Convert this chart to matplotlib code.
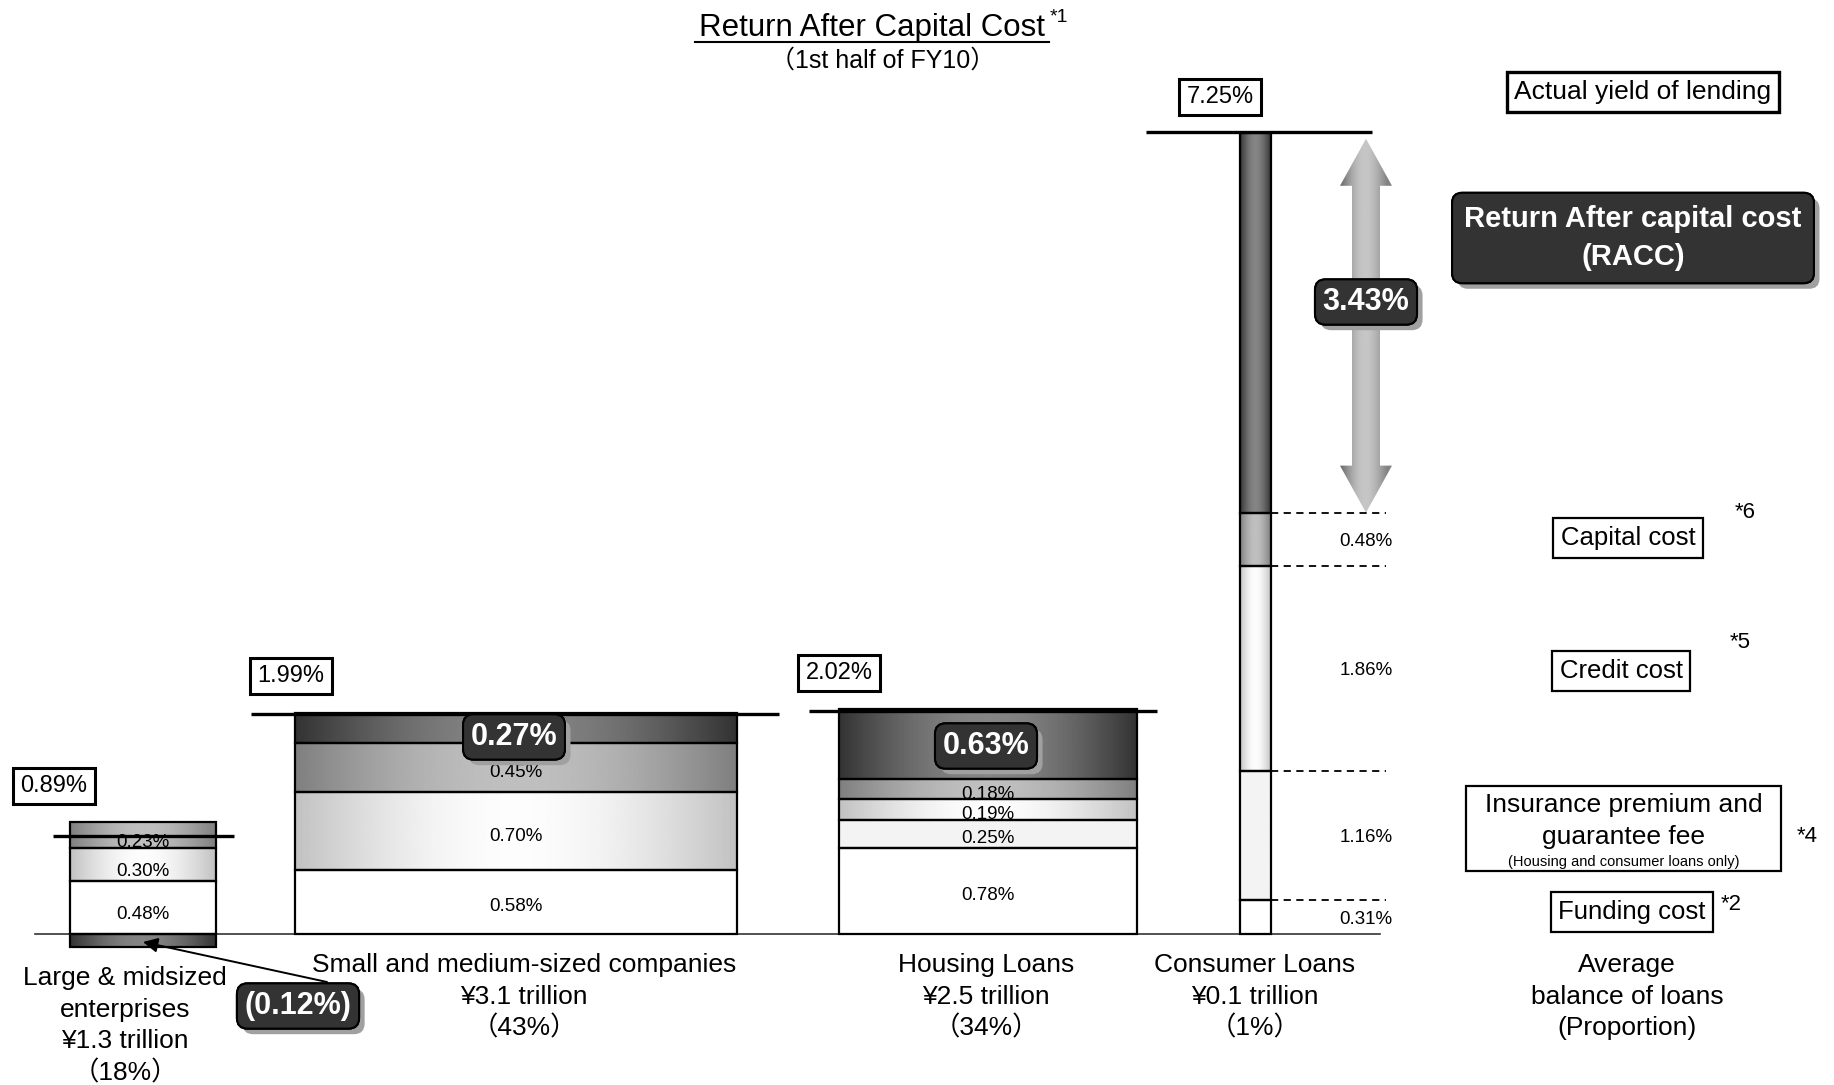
import numpy as np
import matplotlib
matplotlib.use("Agg")
import matplotlib.pyplot as plt
from matplotlib.patches import Rectangle, Polygon
import matplotlib.patheffects as pe

# ---------------- data ----------------
categories = ["Large & midsized\nenterprises", "Small and medium-sized companies",
              "Housing Loans", "Consumer Loans"]
balances = ["¥1.3 trillion", "¥3.1 trillion", "¥2.5 trillion", "¥0.1 trillion"]
proportions = ["（18%）", "（43%）", "（34%）", "（1%）"]
funding_cost = [0.48, 0.58, 0.78, 0.31]
insurance_fee = [0.00, 0.00, 0.25, 1.16]
credit_cost = [0.30, 0.70, 0.19, 1.86]
capital_cost = [0.23, 0.45, 0.18, 0.48]
racc = [-0.12, 0.27, 0.63, 3.43]
actual_yield = [0.89, 1.99, 2.02, 7.25]

# ---------------- layout ----------------
W, H = 1834, 1085
BASE = 934.0      # pixel row of zero line
PPU = 110.6       # pixels per percentage point

def Y(p):
    return (BASE - p) / PPU

ARIAL = ['Liberation Sans', 'Noto Sans CJK JP']
NARROW = ['Liberation Sans Narrow', 'Liberation Sans', 'DejaVu Sans']

fig = plt.figure(figsize=(W / 100, H / 100), dpi=100)
ax = fig.add_axes([0, 0, 1, 1])
ax.axis('off')

bar_lr = [(70, 216), (295, 737), (839, 1137), (1240, 1271)]
line_lr = [(53, 234), (251, 779), (809, 1157), (1146, 1372)]

STYLES = {
    'white': (1.0, 1.0),
    'dot': (0.95, 0.95),
    'light': (0.76, 0.99),
    'medium': (0.50, 0.75),
    'dark': (0.20, 0.52),
}


def grad_rect(x0, x1, y0, y1, style):
    edge, center = STYLES[style]
    t = np.linspace(0, 1, 256)
    val = edge + (center - edge) * np.sin(np.pi * t)
    img = np.tile(val, (2, 1))
    ax.imshow(img, extent=[x0, x1, y0, y1], aspect='auto', cmap='gray',
              vmin=0, vmax=1, interpolation='bilinear', zorder=2)
    ax.add_patch(Rectangle((x0, y0), x1 - x0, y1 - y0, fill=False,
                           ec='black', lw=1.6, zorder=3))


# baseline
ax.plot([35, 1380], [0, 0], color='#333333', lw=1.2, zorder=1)

seg_series = [(funding_cost, 'white'), (insurance_fee, 'dot'),
              (credit_cost, 'light'), (capital_cost, 'medium')]

for i in range(len(categories)):
    x0, x1 = bar_lr[i]
    xc = (x0 + x1) / 2
    bottom = 0.0
    bounds = []
    off = -0.065 if i == 0 else -0.045
    for vals, style in seg_series:
        v = vals[i]
        if v <= 0:
            continue
        grad_rect(x0, x1, bottom, bottom + v, style)
        if i < 3:
            ax.text(xc, bottom + v / 2 + off, f"{v:.2f}%", ha='center',
                    va='center', fontsize=13.5, family=NARROW, zorder=5)
        else:
            ax.text(1366, bottom + v / 2 - 0.02, f"{v:.2f}%", ha='center',
                    va='center', fontsize=13.5, family=NARROW, zorder=5)
        bottom += v
        bounds.append(bottom)
    r = racc[i]
    if r >= 0:
        grad_rect(x0, x1, bottom, bottom + r, 'dark')
    else:
        grad_rect(x0, x1, r, 0, 'dark')
    if i == 3:
        for b in bounds:
            ax.plot([x1, 1386], [b, b], color='black', lw=1.3,
                    ls=(0, (4, 3)), zorder=4)
    lx0, lx1 = line_lr[i]
    ax.plot([lx0, lx1], [actual_yield[i], actual_yield[i]], color='black',
            lw=2.4, zorder=4, solid_capstyle='butt')

# total yield boxes
total_pos = [(54, 786), (291, 676), (839, 673), (1220, 97)]
for i, (px, py) in enumerate(total_pos):
    ax.text(px, Y(py), f"{actual_yield[i]:.2f}%", ha='center', va='center',
            fontsize=17, family=NARROW, zorder=6,
            bbox=dict(boxstyle='square,pad=0.3', fc='white', ec='black', lw=2.2))


def dark_box(x, y, s, fs=22, pad=0.25, ls=1.2):
    t = ax.text(x, y, s, ha='center', va='center', fontsize=fs,
                family=NARROW, weight='bold', color='white', zorder=8,
                multialignment='center', linespacing=ls,
                bbox=dict(boxstyle=f'round,pad={pad},rounding_size=0.35',
                          fc='#333333', ec='black', lw=1.5))
    t.get_bbox_patch().set_path_effects(
        [pe.withSimplePatchShadow(offset=(4, -4), shadow_rgbFace='#a0a0a0', alpha=1.0),
         pe.Normal()])
    return t


# RACC boxes on bars
dark_box(514, Y(737), f"{racc[1]:.2f}%")
dark_box(986, Y(746), f"{racc[2]:.2f}%")
dark_box(298, Y(1006), f"({abs(racc[0]):.2f}%)")
ax.annotate("", xy=(143, Y(942)), xytext=(327, Y(982)),
            arrowprops=dict(arrowstyle='-|>', color='black', lw=1.4,
                            mutation_scale=22, shrinkA=0, shrinkB=0), zorder=7)

# double-headed gradient arrow for consumer RACC
cx = 1366
arr_bot = funding_cost[3] + insurance_fee[3] + credit_cost[3] + capital_cost[3]
arr_top = arr_bot + racc[3] - 0.05
hl = 47 / PPU
sw, hw = 14, 26
verts = [(cx, arr_top), (cx + hw, arr_top - hl), (cx + sw, arr_top - hl),
         (cx + sw, arr_bot + hl), (cx + hw, arr_bot + hl), (cx, arr_bot),
         (cx - hw, arr_bot + hl), (cx - sw, arr_bot + hl),
         (cx - sw, arr_top - hl), (cx - hw, arr_top - hl)]
poly = Polygon(verts, closed=True, fc='none', ec='none', zorder=3)
ax.add_patch(poly)
t = np.linspace(0, 1, 256)
gv = 0.40 + 0.32 * np.sin(np.pi * np.clip(t * 1.1, 0, 1)) + 0.12 * t
img = np.tile(np.clip(gv, 0, 1), (2, 1))
im = ax.imshow(img, extent=[cx - hw, cx + hw, arr_bot, arr_top], aspect='auto',
               cmap='gray', vmin=0, vmax=1, interpolation='bilinear', zorder=3)
im.set_clip_path(poly)
dark_box(cx, Y(302), f"{racc[3]:.2f}%")

# category labels
label_x = [125, 524, 986, 1255]
label_y0 = [978, 965, 965, 965]
LS = 31.6
for i in range(len(categories)):
    lines = categories[i].split("\n") + [balances[i], proportions[i]]
    for k, ln in enumerate(lines):
        ax.text(label_x[i], Y(label_y0[i] + k * LS), ln, ha='center',
                va='center', fontsize=19, family=ARIAL)
for k, ln in enumerate(["Average", "balance of loans", "(Proportion)"]):
    ax.text(1627, Y(965 + k * LS), ln, ha='center', va='center',
            fontsize=19, family=ARIAL)

# title
ax.text(872, Y(28), "Return After Capital Cost", ha='center', va='center',
        fontsize=22.5, family=ARIAL)
ax.plot([695, 1049], [Y(42), Y(42)], color='black', lw=1.5)
ax.text(1050, Y(17), "*1", ha='left', va='center', fontsize=14, family=ARIAL)
ax.text(883, Y(61), "（1st half of FY10）", ha='center', va='center',
        fontsize=18, family=ARIAL)

# right-side legend
ax.text(1643, Y(92), "Actual yield of lending", ha='center', va='center',
        fontsize=19, family=NARROW,
        bbox=dict(boxstyle='square,pad=0.3', fc='white', ec='black', lw=2.4))
dark_box(1633, Y(238), "Return After capital cost\n(RACC)", fs=21, pad=0.42, ls=1.45)

ax.text(1628, Y(538), "Capital cost", ha='center', va='center', fontsize=18.5,
        family=NARROW, bbox=dict(boxstyle='square,pad=0.3', fc='white', ec='black', lw=1.6))
ax.text(1745, Y(512), "*6", ha='center', va='center', fontsize=16, family=NARROW)
ax.text(1621, Y(671), "Credit cost", ha='center', va='center', fontsize=18.5,
        family=NARROW, bbox=dict(boxstyle='square,pad=0.3', fc='white', ec='black', lw=1.6))
ax.text(1740, Y(643), "*5", ha='center', va='center', fontsize=16, family=NARROW)

ax.add_patch(Rectangle((1466, Y(871)), 1781 - 1466, Y(786) - Y(871), fill=False,
                       ec='black', lw=1.6, zorder=5))
ax.text(1624, Y(805), "Insurance premium and", ha='center', va='center',
        fontsize=19, family=NARROW)
ax.text(1624, Y(837), "guarantee fee", ha='center', va='center',
        fontsize=19, family=NARROW)
ax.text(1624, Y(862), "(Housing and consumer loans only)", ha='center',
        va='center', fontsize=10.5, family=NARROW)
ax.text(1807, Y(837), "*4", ha='center', va='center', fontsize=16, family=NARROW)

ax.text(1632, Y(912), "Funding cost", ha='center', va='center', fontsize=18.5,
        family=NARROW, bbox=dict(boxstyle='square,pad=0.3', fc='white', ec='black', lw=1.6))
ax.text(1731, Y(905), "*2", ha='center', va='center', fontsize=16, family=NARROW)

ax.set_xlim(0, W)
ax.set_ylim(Y(H), Y(0))
fig.savefig("out.png", dpi=100, facecolor='white')
